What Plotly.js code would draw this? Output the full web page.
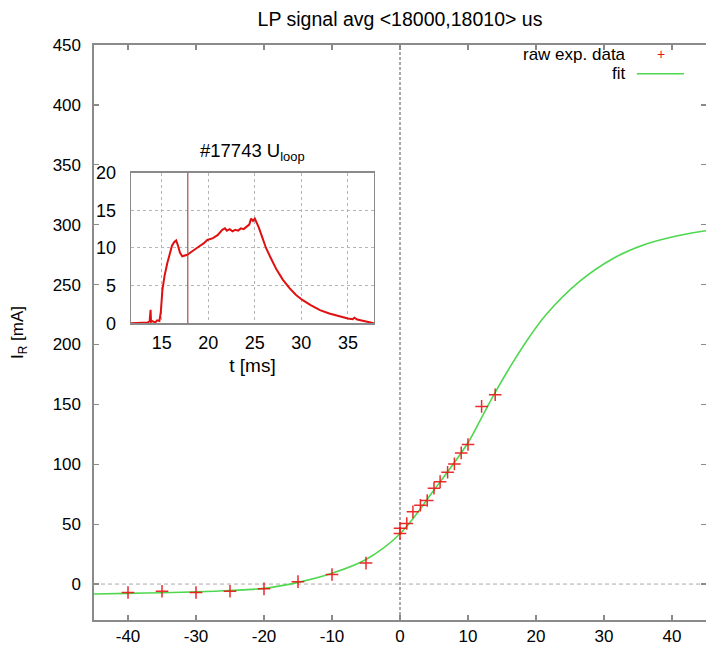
<!DOCTYPE html>
<html>
<head>
<meta charset="utf-8">
<script src="https://cdn.plot.ly/plotly-3.0.1.min.js"></script>
<style>
  html, body { margin: 0; padding: 0; background: #ffffff; }
  #chart { width: 706px; height: 648px; }
</style>
</head>
<body>
<div id="chart"></div>
<script>
// ---- main plot: raw experimental data ----
const rawV = [-40, -35, -30, -25, -20, -15, -10, -5, 0, 0, 1, 1.9, 3, 4, 5, 5.9, 7, 8, 9, 10, 12, 14];
const rawI = [-7, -6, -7, -6, -4, 2, 8, 17.5, 42.3, 46.5, 50.6, 60.3, 65.8, 69.7, 80, 85.5, 93.4, 100.3, 109.5, 116.5, 148.3, 158];

// ---- main plot: fit curve ----
const fitV = [-45, -40, -35, -30, -25, -20, -15, -10, -5, 0, 5, 10, 12, 14, 16.6, 19, 21.5, 26.5, 31.4, 36.3, 41, 45];
const fitI = [-8.3, -7.8, -7.2, -6.5, -5.4, -3.6, 1.4, 9, 20.5, 42, 78.5, 118, 139, 160, 185, 206, 225, 253, 272, 284, 291, 295];

// ---- inset: loop voltage of shot #17743 ----
const loopT = [11.7, 12.5, 13.0, 13.5, 13.7, 13.8, 13.85, 14.0, 14.3, 14.5, 14.75, 14.9, 15.07, 15.3, 15.6, 15.85, 16.1, 16.35, 16.55,
               16.75, 16.95, 17.2, 17.5, 17.75, 18.2, 18.6, 19.0, 19.5, 19.9, 20.5, 21.0, 21.5, 21.8, 22.0, 22.3, 22.6, 22.9,
               23.2, 23.5, 23.8, 24.1, 24.4, 24.6, 24.8, 25.0, 25.2, 25.4, 25.8, 26.2, 26.7, 27.3, 28.0, 28.7, 29.4, 30.1,
               31.0, 32.0, 33.0, 34.0, 35.0, 35.5, 35.7, 36.0, 36.5, 37.0, 37.5, 37.8];
const loopU = [0, 0, 0.05, 0.1, 0.3, 1.8, 0.2, 0.3, 0.1, 0.4, 0.3, 1.5, 4.4, 6.3, 8.0, 9.3, 10.3, 10.8, 11.0,
               10.3, 9.4, 8.9, 9.0, 9.1, 9.5, 9.8, 10.2, 10.6, 11.06, 11.3, 11.7, 12.4, 12.6, 12.3, 12.5, 12.2, 12.4,
               12.3, 12.6, 12.5, 12.8, 13.1, 13.9, 13.6, 13.9, 13.4, 12.8, 11.4, 10.0, 8.7, 7.2, 5.8, 4.7, 3.8, 3.1,
               2.4, 1.75, 1.3, 0.95, 0.65, 0.55, 0.75, 0.5, 0.38, 0.22, 0.08, 0];
const avgTime = [17.8];

const xTicks = [-40, -30, -20, -10, 0, 10, 20, 30, 40];
const xTickText = ["-40", "-30", "-20", "-10", "0", "10", "20", "30", "40"];
const yTicks = [0, 50, 100, 150, 200, 250, 300, 350, 400, 450];
const insetXTicks = [15, 20, 25, 30, 35];
const insetYTicks = [0, 5, 10, 15, 20];

const FONT = "Liberation Sans, Arial, Helvetica, sans-serif";
const AXC = "#8a8a8a";

const traces = [
  {
    x: fitV, y: fitI, type: "scatter", mode: "lines", name: "fit",
    line: { color: "#4fd84f", width: 1.6, shape: "spline", smoothing: 1 },
    xaxis: "x", yaxis: "y", showlegend: false, hoverinfo: "skip"
  },
  {
    x: rawV, y: rawI, type: "scatter", mode: "markers", name: "raw exp. data",
    marker: { symbol: "cross-thin", size: 9, color: "rgba(0,0,0,0)", line: { color: "rgba(232,20,20,0.9)", width: 1.5 } },
    xaxis: "x", yaxis: "y", showlegend: false
  },
  {
    x: loopT, y: loopU, type: "scatter", mode: "lines", name: "U_loop",
    line: { color: "#e01010", width: 2 },
    xaxis: "x2", yaxis: "y2", showlegend: false
  }
];

const layout = {
  width: 706, height: 648,
  margin: { l: 94, r: 0, t: 45, b: 28 },
  paper_bgcolor: "#ffffff", plot_bgcolor: "#ffffff",
  font: { family: FONT, color: "#000", size: 17 },
  title: {
    text: "LP signal avg &lt;18000,18010&gt; us",
    font: { family: FONT, size: 19.5, color: "#000" },
    x: 400 / 706, xanchor: "center", y: 1 - 19 / 648, yanchor: "middle"
  },
  xaxis: {
    domain: [0, 1], range: [-45, 45], tickvals: xTicks, ticktext: xTickText,
    ticks: "inside", ticklen: 5, tickcolor: AXC, tickwidth: 1.2,
    showline: true, linecolor: AXC, linewidth: 1.6, mirror: "ticks",
    showgrid: false, zeroline: false,
    tickfont: { family: FONT, size: 17, color: "#000" }, ticklabelstandoff: 0
  },
  yaxis: {
    domain: [0, 1], range: [-30, 450], tickvals: yTicks,
    ticks: "inside", ticklen: 5, tickcolor: AXC, tickwidth: 1.2,
    showline: true, linecolor: AXC, linewidth: 1.6, mirror: "ticks",
    showgrid: false, zeroline: false,
    tickfont: { family: FONT, size: 17, color: "#000" }, ticklabelstandoff: 8,
    title: { text: "I<sub>R</sub> [mA]", font: { family: FONT, size: 17, color: "#000" }, standoff: 24 }
  },
  xaxis2: {
    domain: [0.0605, 0.4575], anchor: "y2", range: [11.7, 37.8], tickvals: insetXTicks,
    ticks: "", showline: true, linecolor: AXC, linewidth: 1.3, mirror: true,
    showgrid: true, gridcolor: "#b5b5b5", griddash: "3px,3px", gridwidth: 1, zeroline: false,
    tickfont: { family: FONT, size: 18, color: "#000" }, ticklabelstandoff: 3,
    title: { text: "t [ms]", font: { family: FONT, size: 19, color: "#000" }, standoff: 6 }
  },
  yaxis2: {
    domain: [0.516, 0.778], anchor: "x2", range: [0, 20], tickvals: insetYTicks,
    ticks: "", showline: true, linecolor: AXC, linewidth: 1.3, mirror: true,
    showgrid: true, gridcolor: "#b5b5b5", griddash: "3px,3px", gridwidth: 1, zeroline: false,
    tickfont: { family: FONT, size: 18, color: "#000" }, ticklabelstandoff: 10
  },
  shapes: [
    // zero axes of the main plot (dashed)
    { type: "line", xref: "x", yref: "paper", x0: 0, x1: 0, y0: 0, y1: 1,
      line: { color: "#555", width: 1, dash: "3px,2px" }, layer: "below" },
    { type: "line", xref: "paper", yref: "y", x0: 0, x1: 1, y0: 0, y1: 0,
      line: { color: "#aaaaaa", width: 1, dash: "4px,3px" }, layer: "below" },
    // averaging time marker in the inset
    { type: "line", xref: "x2", yref: "y2 domain", x0: avgTime[0], x1: avgTime[0], y0: 0, y1: 1,
      line: { color: "#a05050", width: 1.2 } },
    // legend sample for the fit
    { type: "line", xref: "paper", yref: "paper", x0: 0.887, x1: 0.964, y0: 0.950, y1: 0.950,
      line: { color: "#4fd84f", width: 1.6 } }
  ],
  annotations: [
    { text: "raw exp. data", xref: "paper", yref: "paper", x: 0.871, y: 0.983,
      xanchor: "right", yanchor: "middle", showarrow: false,
      font: { family: FONT, size: 17, color: "#000" }, borderpad: 0 },
    { text: "fit", xref: "paper", yref: "paper", x: 0.871, y: 0.950,
      xanchor: "right", yanchor: "middle", showarrow: false,
      font: { family: FONT, size: 17, color: "#000" }, borderpad: 0 },
    { text: "+", xref: "paper", yref: "paper", x: 0.926, y: 0.985,
      xanchor: "center", yanchor: "middle", showarrow: false,
      font: { family: FONT, size: 14, color: "#e81414" } },
    { text: "#17743 U<sub>loop</sub>", xref: "paper", yref: "paper", x: (252.5 - 94) / 612, y: (620 - 152) / 575,
      xanchor: "center", yanchor: "middle", showarrow: false,
      font: { family: FONT, size: 18.5, color: "#000" } }
  ]
};

Plotly.newPlot("chart", traces, layout, { displayModeBar: false, staticPlot: true });
</script>
</body>
</html>
